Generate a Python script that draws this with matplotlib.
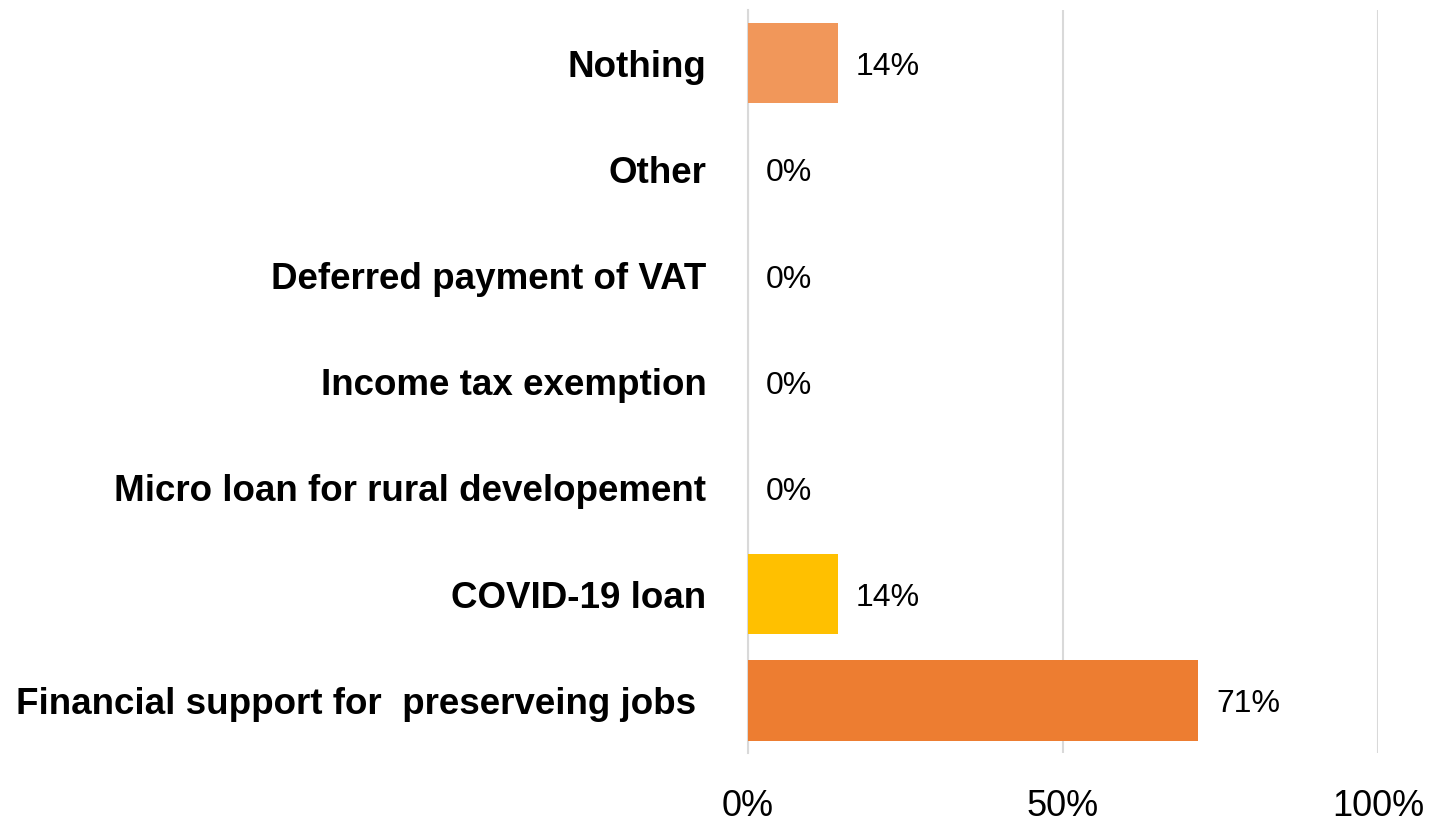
import matplotlib
matplotlib.use("Agg")
import matplotlib.pyplot as plt
from matplotlib.ticker import FuncFormatter

plt.rcParams["font.family"] = ["Liberation Sans Narrow", "Liberation Sans", "DejaVu Sans"]

categories = [
    "Financial support for  preserveing jobs ",
    "COVID-19 loan",
    "Micro loan for rural developement",
    "Income tax exemption",
    "Deferred payment of VAT",
    "Other",
    "Nothing",
]
values = [71.43, 14.29, 0, 0, 0, 0, 14.29]
bar_colors = ["#ED7D31", "#FFC000", "#ED7D31", "#ED7D31", "#ED7D31", "#ED7D31", "#F1975A"]
ticks = [0, 50, 100]

fig = plt.figure(figsize=(14.51, 8.26), dpi=100)
ax = fig.add_axes([0.5155, 0.088, 0.4342, 0.900])

ax.barh(range(len(categories)), values, height=0.76, color=bar_colors, zorder=3)

for i, v in enumerate(values):
    ax.annotate(f"{v:.0f}%", (v, i), xytext=(13, -3), textcoords="offset points",
                va="center", ha="left", fontsize=23)

ax.set_xlim(0, 100)
ax.set_ylim(-0.5, len(categories) - 0.5)
ax.set_xticks(ticks)
ax.xaxis.set_major_formatter(FuncFormatter(lambda x, p: f"{x:.0f}%"))
ax.set_yticks(range(len(categories)))
ax.set_yticklabels(categories, fontweight="bold", fontsize=26.5)

ax.grid(axis="x", color="#D9D9D9", linewidth=1.5, zorder=0)
for s in ["top", "right", "bottom"]:
    ax.spines[s].set_visible(False)
ax.spines["left"].set_color("#D9D9D9")
ax.spines["left"].set_linewidth(1.5)
ax.tick_params(axis="x", length=0, pad=26, labelsize=26)
ax.tick_params(axis="y", length=0, pad=30)

fig.savefig("out.png", dpi=100)
